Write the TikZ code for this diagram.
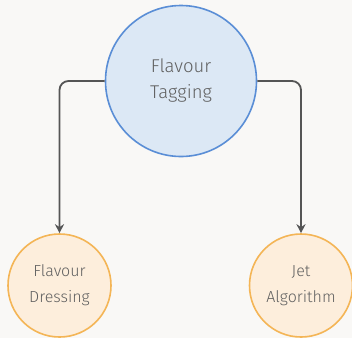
\documentclass[tikz,border=0pt]{standalone}
\usepackage{fontspec}
\setmainfont{Fira Sans Light}
\usetikzlibrary{arrows.meta}
\definecolor{bgc}{HTML}{F9F8F6}
\definecolor{topfill}{HTML}{DCE8F5}
\definecolor{topline}{HTML}{5A8ED6}
\definecolor{leaffill}{HTML}{FDEEDC}
\definecolor{leafline}{HTML}{F4B556}
\definecolor{linkc}{HTML}{555555}
\definecolor{txt}{HTML}{606060}
\tikzset{
  rootnode/.style={circle, draw=topline, fill=topfill, line width=1.6pt,
    minimum size=151pt, inner sep=0pt, align=center, text=txt,
    font=\fontsize{18.5}{26}\selectfont},
  leafnode/.style={circle, draw=leafline, fill=leaffill, line width=1.6pt,
    minimum size=103pt, inner sep=0pt, align=center, text=txt,
    font=\fontsize{16}{26}\selectfont},
  link/.style={draw=linkc, line width=1.8pt, rounded corners=9pt,
    -{Stealth[length=9pt,width=9pt]}}
}
\begin{document}
\begin{tikzpicture}[x=1pt,y=-1pt]
  \fill[bgc] (0,0) rectangle (352,338);
  \useasboundingbox (0,0) rectangle (352,338);
  \node[rootnode] (tag) at (181,81) {Flavour\\Tagging};
  \node[leafnode] (dress) at (59.5,285.5) {Flavour\\Dressing};
  \node[leafnode] (jet) at (301,285.5) {Jet\\Algorithm};
  \draw[link] (tag.west) -| (dress.north);
  \draw[link] (tag.east) -| (jet.north);
\end{tikzpicture}
\end{document}
